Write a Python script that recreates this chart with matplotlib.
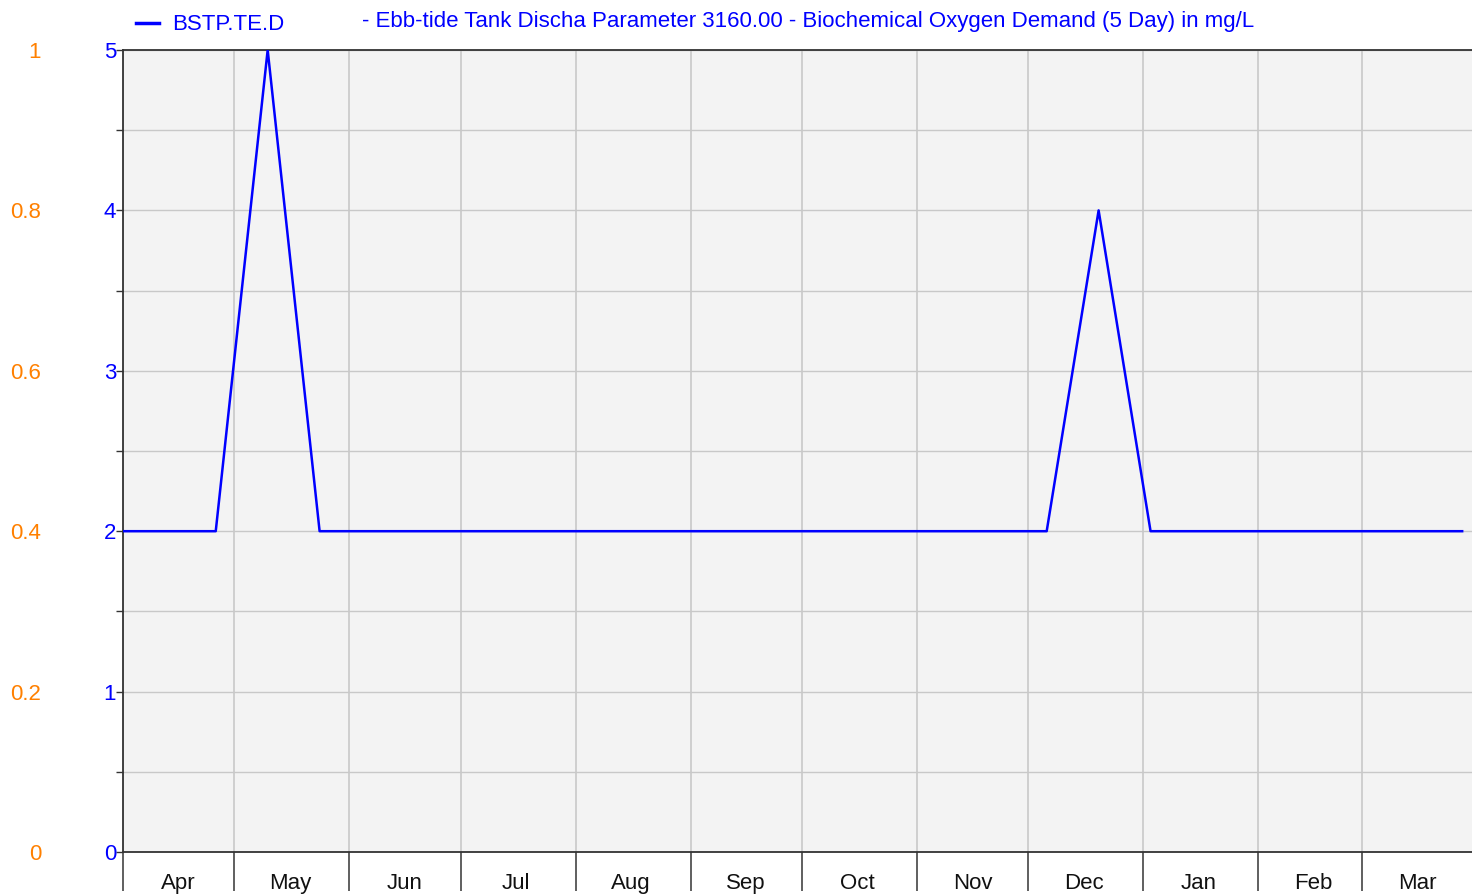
import pandas as pd
import matplotlib
matplotlib.use("Agg")
import matplotlib.pyplot as plt
import matplotlib.dates as mdates
from matplotlib.lines import Line2D

plt.rcParams["font.family"] = ["Liberation Sans", "DejaVu Sans"]

# sample dates (fortnightly) and BOD values in mg/L
sample_dates = ["2022-03-29", "2022-04-12", "2022-04-26", "2022-05-10", "2022-05-24",
                "2022-06-07", "2022-06-21", "2022-07-05", "2022-07-19", "2022-08-02",
                "2022-08-16", "2022-08-30", "2022-09-13", "2022-09-27", "2022-10-11",
                "2022-10-25", "2022-11-08", "2022-11-22", "2022-12-06", "2022-12-20",
                "2023-01-03", "2023-01-17", "2023-01-31", "2023-02-14", "2023-02-28",
                "2023-03-14", "2023-03-28"]
bod_values = [2, 2, 2, 5, 2, 2, 2, 2, 2, 2, 2, 2, 2, 2, 2, 2, 2, 2, 2, 4,
              2, 2, 2, 2, 2, 2, 2]
series_name = "BSTP.TE.D"
title_text = "- Ebb-tide Tank Discha Parameter 3160.00 - Biochemical Oxygen Demand (5 Day) in mg/L"
left_ticks = [0, 1, 2, 3, 4, 5]
orange_ticks = [0, 0.2, 0.4, 0.6, 0.8, 1]

BLUE = "#0000FF"
ORANGE = "#FF8000"
GRID = "#C8C8C8"
FS = 16

dates = pd.to_datetime(sample_dates)

fig = plt.figure(figsize=(14.72, 8.96), dpi=100)
ax = fig.add_axes([123 / 1472, 1 - 852 / 896, 1354 / 1472, (852 - 50) / 896])
ax.set_facecolor("#F3F3F3")

ax.plot(dates, bod_values, color=BLUE, lw=1.8, zorder=3)

ax.set_xlim(pd.Timestamp("2022-04-01"), pd.Timestamp("2023-04-01"))
ax.set_ylim(0, 5)

# x axis: month boundaries as long ticks, labels centred in each month
ax.xaxis.set_major_locator(mdates.MonthLocator())
ax.xaxis.set_major_formatter(plt.NullFormatter())
ax.xaxis.set_minor_locator(mdates.MonthLocator(bymonthday=16))
ax.xaxis.set_minor_formatter(mdates.DateFormatter("%b"))
ax.tick_params(axis="x", which="major", length=28, width=1.2, color="#444444", direction="out")
ax.tick_params(axis="x", which="minor", length=0, pad=15, labelsize=FS, labelcolor="#111111")

# y axis (blue)
ax.set_yticks(left_ticks)
ax.set_yticks([v + 0.5 for v in left_ticks[:-1]], minor=True)
ax.tick_params(axis="y", which="both", length=5, width=1, color="#333333",
               labelsize=FS, labelcolor=BLUE, pad=0)

ax.grid(True, which="major", axis="x", color=GRID, lw=1.2)
ax.grid(True, which="both", axis="y", color=GRID, lw=1.0)
ax.set_axisbelow(True)

for side in ["left", "bottom", "top"]:
    ax.spines[side].set_color("#333333")
    ax.spines[side].set_linewidth(1.3)
ax.spines["right"].set_visible(False)

# secondary scale (orange) on far left
ax2 = ax.twinx()
ax2.set_ylim(0, 1)
ax2.set_yticks(orange_ticks)
ax2.set_yticklabels([f"{v:g}" for v in orange_ticks])
ax2.yaxis.tick_left()
ax2.tick_params(axis="y", length=0, pad=59, labelsize=FS, labelcolor=ORANGE)
for s in ax2.spines.values():
    s.set_visible(False)

# legend / header
handle = Line2D([], [], color=BLUE, lw=2.5)
fig.legend([handle], [series_name], loc="upper left", bbox_to_anchor=(122 / 1472, 1.0),
           frameon=False, fontsize=FS, labelcolor=BLUE, handlelength=1.0,
           handletextpad=0.6, borderaxespad=0.25)
fig.text(362 / 1472, 1 - 21 / 896, title_text, color=BLUE, fontsize=FS, va="center", ha="left")

plt.savefig("out.png", dpi=100)
plt.close()
